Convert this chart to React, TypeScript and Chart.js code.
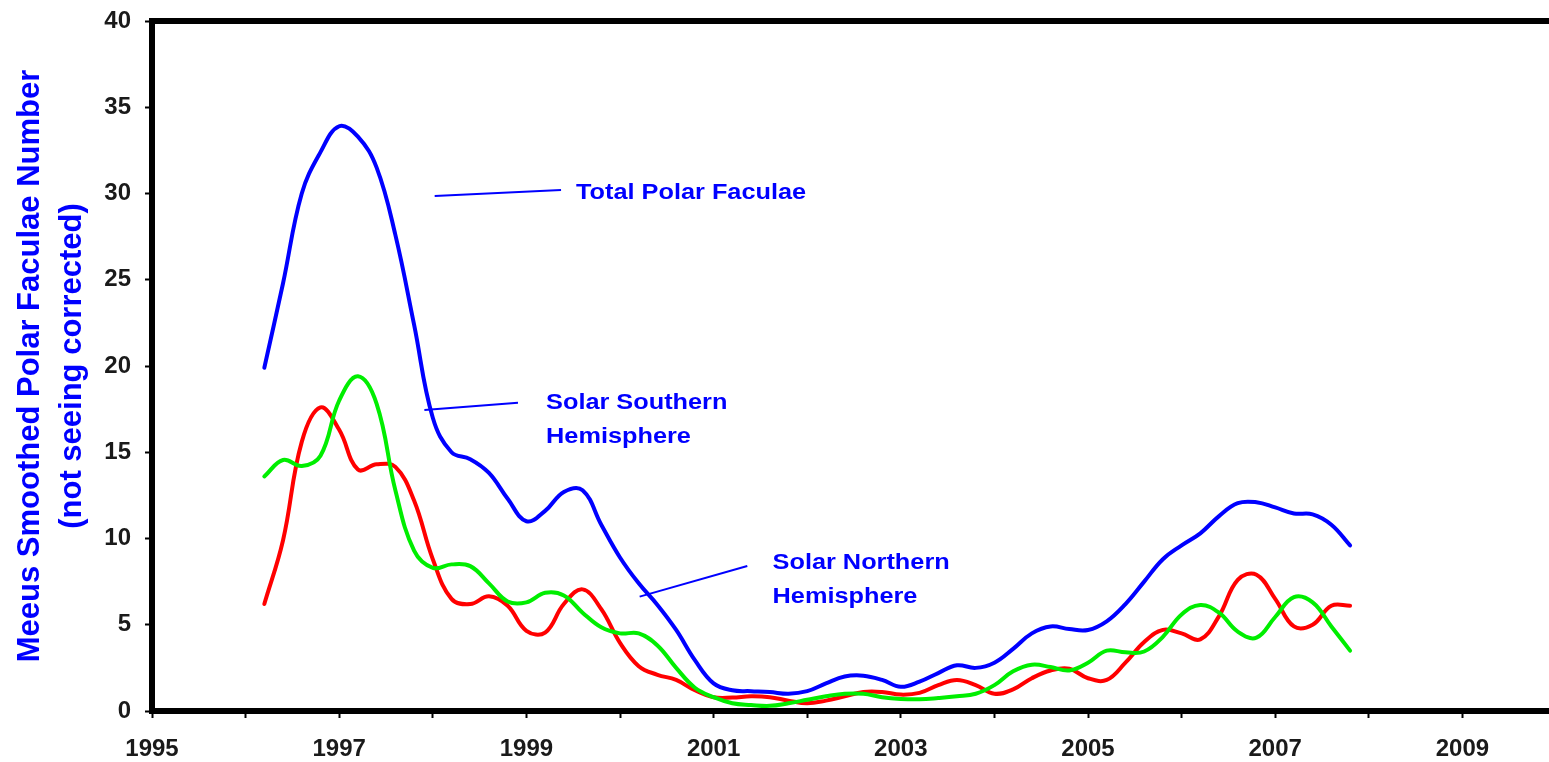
import React, { useEffect, useRef } from 'react';
import { Chart, registerables } from 'chart.js';

Chart.register(...registerables);

const FONT = '"Liberation Sans", Arial, Helvetica, sans-serif';

const years = [
  1996.2, 1996.4, 1996.6, 1996.8,
  1997.0, 1997.2, 1997.4, 1997.6, 1997.8,
  1998.0, 1998.2, 1998.4, 1998.6, 1998.8,
  1999.0, 1999.2, 1999.4, 1999.6, 1999.8,
  2000.0, 2000.2, 2000.4, 2000.6, 2000.8,
  2001.0, 2001.2, 2001.4, 2001.6, 2001.8,
  2002.0, 2002.2, 2002.4, 2002.6, 2002.8,
  2003.0, 2003.2, 2003.4, 2003.6, 2003.8,
  2004.0, 2004.2, 2004.4, 2004.6, 2004.8,
  2005.0, 2005.2, 2005.4, 2005.6, 2005.8,
  2006.0, 2006.2, 2006.4, 2006.6, 2006.8,
  2007.0, 2007.2, 2007.4, 2007.6, 2007.8,
];

const totalFaculae = [
  19.9, 24.8, 30.0, 32.4,
  33.9, 33.3, 31.5, 27.6, 22.4,
  17.0, 15.0, 14.6, 13.8, 12.3,
  11.0, 11.6, 12.7, 12.8, 10.8,
  8.9, 7.4, 6.15, 4.7, 2.95,
  1.6, 1.2, 1.15, 1.1, 1.0,
  1.15, 1.6, 2.0, 2.05, 1.8,
  1.4, 1.7, 2.2, 2.65, 2.5,
  2.8, 3.6, 4.5, 4.9, 4.75,
  4.7, 5.2, 6.2, 7.5, 8.8,
  9.6, 10.3, 11.3, 12.05, 12.1,
  11.8, 11.45, 11.4, 10.8, 9.6,
];

const redHemisphere = [
  6.2, 9.9, 15.6, 17.6,
  16.3, 14.0, 14.3, 14.15, 12.2,
  8.8, 6.5, 6.2, 6.65, 6.1,
  4.65, 4.55, 6.2, 7.05, 5.9,
  3.95, 2.6, 2.1, 1.8, 1.2,
  0.8, 0.78, 0.85, 0.8, 0.6,
  0.45, 0.6, 0.85, 1.1, 1.1,
  0.95, 1.05, 1.5, 1.8, 1.5,
  1.0, 1.25, 1.9, 2.35, 2.45,
  1.9, 1.8, 2.8, 4.0, 4.7,
  4.5, 4.15, 5.5, 7.6, 7.9,
  6.5, 4.9, 5.0, 6.1, 6.1,
];

const greenHemisphere = [
  13.6, 14.55, 14.2, 14.8,
  18.0, 19.4, 17.8, 12.8, 9.3,
  8.3, 8.5, 8.4, 7.4, 6.35,
  6.3, 6.85, 6.7, 5.7, 4.85,
  4.5, 4.5, 3.8, 2.5, 1.35,
  0.8, 0.45, 0.35, 0.3, 0.45,
  0.65, 0.85, 1.0, 1.0, 0.8,
  0.7, 0.68, 0.75, 0.85, 1.0,
  1.5, 2.3, 2.68, 2.55, 2.35,
  2.8, 3.5, 3.4, 3.45, 4.3,
  5.6, 6.15, 5.7, 4.6, 4.25,
  5.45, 6.6, 6.3, 4.9, 3.5,
];

const xTickLabels = ['1995', '1997', '1999', '2001', '2003', '2005', '2007', '2009'];
const yTitle = ['Meeus Smoothed Polar Faculae Number', '(not seeing corrected)'];

const calloutTexts = [['Total Polar Faculae'], ['Solar Southern', 'Hemisphere'], ['Solar Northern', 'Hemisphere']];
const calloutTextX = [1999.53, 1999.21, 2001.63];
const calloutTextY = [[30.03], [17.84, 15.9], [8.56, 6.63]];
const leaderFrom = [[1998.02, 29.86], [1997.91, 17.45], [2000.21, 6.63]];
const leaderTo = [[1999.37, 30.2], [1998.91, 17.87], [2001.36, 8.41]];

const calloutPlugin = {
  id: 'callouts',
  afterDatasetsDraw(chart: any) {
    const { ctx } = chart;
    const x = chart.scales.x;
    const y = chart.scales.y;
    ctx.save();
    ctx.strokeStyle = '#0000ff';
    ctx.lineWidth = 2;
    leaderFrom.forEach((f, i) => {
      const t = leaderTo[i];
      ctx.beginPath();
      ctx.moveTo(x.getPixelForValue(f[0]), y.getPixelForValue(f[1]));
      ctx.lineTo(x.getPixelForValue(t[0]), y.getPixelForValue(t[1]));
      ctx.stroke();
    });
    ctx.fillStyle = '#0000ff';
    ctx.font = `bold 22px ${FONT}`;
    ctx.textBaseline = 'middle';
    ctx.textAlign = 'left';
    calloutTexts.forEach((lines, i) => {
      lines.forEach((t, j) => {
        const px = x.getPixelForValue(calloutTextX[i]);
        const py = y.getPixelForValue(calloutTextY[i][j]);
        ctx.save();
        ctx.translate(px, py);
        ctx.scale(1.15, 1);
        ctx.fillText(t, 0, 0);
        ctx.restore();
      });
    });
    ctx.restore();
  },
};

const tickFont = { family: FONT, size: 24, weight: 'bold' as const };

const fitHorizontal = (h: number) => (s: any) => {
  s.height = h;
  s.paddingLeft = 0;
  s.paddingRight = 0;
};

export default function App() {
  const canvasRef = useRef<HTMLCanvasElement | null>(null);

  useEffect(() => {
    if (!canvasRef.current) return;
    const toPoints = (vals: number[]) => years.map((yr, i) => ({ x: yr, y: vals[i] }));
    const chart = new Chart(canvasRef.current, {
      type: 'line',
      data: {
        datasets: [
          { label: 'Green', data: toPoints(greenHemisphere), borderColor: '#00ee00' },
          { label: 'Red', data: toPoints(redHemisphere), borderColor: '#ff0000' },
          { label: 'Total Polar Faculae', data: toPoints(totalFaculae), borderColor: '#0000ff' },
        ],
      },
      options: {
        animation: false,
        responsive: true,
        maintainAspectRatio: false,
        layout: { padding: 0 },
        plugins: {
          legend: { display: false },
          tooltip: { enabled: false },
          title: { display: false },
        },
        elements: {
          point: { radius: 0, hoverRadius: 0 },
          line: { tension: 0.4, borderWidth: 4, borderCapStyle: 'round', borderJoinStyle: 'round', fill: false },
        },
        scales: {
          x: {
            type: 'linear',
            position: 'bottom',
            min: 1995,
            max: 2010,
            afterFit: fitHorizontal(51),
            ticks: {
              stepSize: 1,
              autoSkip: false,
              maxRotation: 0,
              padding: 17,
              color: '#1a1a1a',
              font: tickFont,
              callback: (v: any) => (xTickLabels.includes(String(v)) ? String(v) : ''),
            },
            grid: { display: true, drawOnChartArea: false, drawTicks: true, tickLength: 7, tickWidth: 2, tickColor: '#000' },
            border: { display: true, width: 6, color: '#000' },
          },
          xTop: {
            type: 'linear',
            position: 'top',
            min: 1995,
            max: 2010,
            afterFit: fitHorizontal(21),
            ticks: { display: false, callback: () => '' },
            grid: { display: false },
            border: { display: true, width: 6, color: '#000' },
          },
          y: {
            type: 'linear',
            position: 'left',
            min: 0,
            max: 40,
            afterFit: (s: any) => {
              s.width = 152;
              s.paddingTop = 0;
              s.paddingBottom = 0;
            },
            ticks: { stepSize: 5, padding: 14, color: '#1a1a1a', font: tickFont },
            grid: { display: true, drawOnChartArea: false, drawTicks: true, tickLength: 7, tickWidth: 2, tickColor: '#000' },
            border: { display: true, width: 6, color: '#000' },
            title: {
              display: true,
              text: yTitle,
              color: '#0000ff',
              font: { family: FONT, size: 31, weight: 'bold', lineHeight: 1.355 },
              padding: { top: 9, bottom: 0 },
            },
          },
        },
      },
      plugins: [calloutPlugin],
    } as any);
    return () => chart.destroy();
  }, []);

  return (
    <div style={{ position: 'absolute', left: 0, top: 0, width: 1549, height: 762, overflow: 'hidden', background: '#fff' }}>
      <div style={{ position: 'relative', width: 1556, height: 762 }}>
        <canvas ref={canvasRef} />
      </div>
    </div>
  );
}
